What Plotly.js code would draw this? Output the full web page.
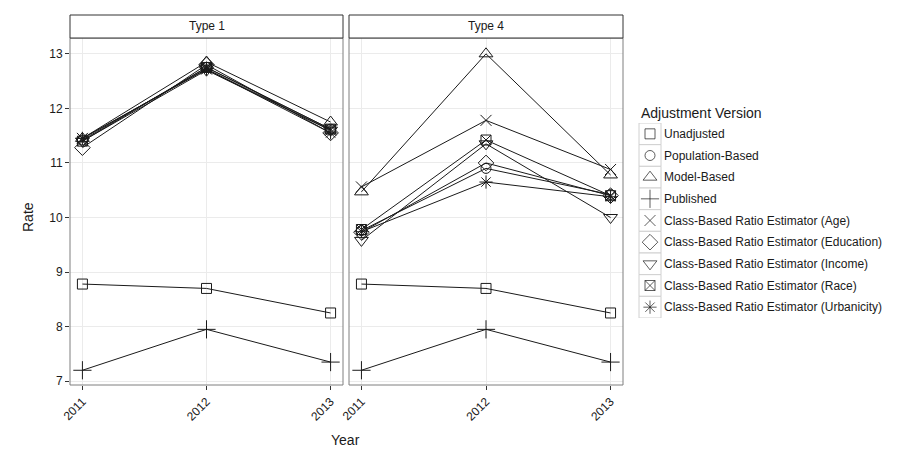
<!DOCTYPE html>
<html>
<head>
<meta charset="utf-8">
<script src="https://cdn.plot.ly/plotly-3.0.1.min.js"></script>
<style>html,body{margin:0;padding:0;background:#fff;}#chart{width:900px;height:459px;}</style>
</head>
<body>
<div id="chart"></div>
<script>
const years = [2011, 2012, 2013];
const panels = ["Type 1", "Type 4"];
const legendTitle = "Adjustment Version";
const versions = [
  "Unadjusted",
  "Population-Based",
  "Model-Based",
  "Published",
  "Class-Based Ratio Estimator (Age)",
  "Class-Based Ratio Estimator (Education)",
  "Class-Based Ratio Estimator (Income)",
  "Class-Based Ratio Estimator (Race)",
  "Class-Based Ratio Estimator (Urbanicity)"
];
const symbols = ["square-open", "circle-open", "triangle-up-open", "cross-thin-open", "x-thin-open", "diamond-open", "triangle-down-open", "square-x-open", "asterisk-open"];

// Type 1 values, one array per version (2011, 2012, 2013)
const t1Unadjusted = [8.78, 8.70, 8.25];
const t1Population = [11.42, 12.75, 11.62];
const t1Model      = [11.45, 12.85, 11.75];
const t1Published  = [7.20, 7.95, 7.35];
const t1Age        = [11.45, 12.72, 11.60];
const t1Education  = [11.28, 12.80, 11.55];
const t1Income     = [11.40, 12.70, 11.60];
const t1Race       = [11.40, 12.75, 11.62];
const t1Urbanicity = [11.45, 12.72, 11.55];

// Type 4 values
const t4Unadjusted = [8.78, 8.70, 8.25];
const t4Population = [9.76, 10.90, 10.42];
const t4Model      = [10.47, 13.00, 10.78];
const t4Published  = [7.20, 7.95, 7.35];
const t4Age        = [10.56, 11.78, 10.88];
const t4Education  = [9.73, 11.00, 10.40];
const t4Income     = [9.58, 11.35, 10.00];
const t4Race       = [9.78, 11.42, 10.40];
const t4Urbanicity = [9.74, 10.65, 10.38];

const type1 = [t1Unadjusted, t1Population, t1Model, t1Published, t1Age, t1Education, t1Income, t1Race, t1Urbanicity];
const type4 = [t4Unadjusted, t4Population, t4Model, t4Published, t4Age, t4Education, t4Income, t4Race, t4Urbanicity];
const yTicks = [7, 8, 9, 10, 11, 12, 13];

const FONT = "Liberation Sans, Arial, sans-serif";
const INK = "#1a1a1a";
const markerSize = {"triangle-up-open": 12, "triangle-down-open": 12, "cross-thin-open": 13, "x-thin-open": 11, "asterisk-open": 11, "diamond-open": 12, "circle-open": 10, "square-open": 10, "square-x-open": 10};

const traces = [];
[type1, type4].forEach((data, p) => {
  const xa = p === 0 ? "x" : "x2";
  data.forEach((vals) => {
    traces.push({
      x: years, y: vals, xaxis: xa, yaxis: "y", type: "scatter", mode: "lines",
      line: {color: INK, width: 1}, showlegend: false, hoverinfo: "skip"
    });
  });
});
[type1, type4].forEach((data, p) => {
  const xa = p === 0 ? "x" : "x2";
  data.forEach((vals, i) => {
    traces.push({
      x: years, y: vals, xaxis: xa, yaxis: "y", type: "scatter", mode: "markers",
      name: versions[i], showlegend: false,
      marker: {symbol: symbols[i], size: markerSize[symbols[i]], color: INK, line: {color: INK, width: 1}}
    });
  });
});
// legend keys: one marker per version on a small categorical axis
traces.push({
  x: versions.map(() => 0), y: versions, xaxis: "x3", yaxis: "y3", type: "scatter", mode: "markers",
  showlegend: false, hoverinfo: "skip",
  marker: {symbol: symbols, size: symbols.map(s => markerSize[s]), color: INK, line: {color: INK, width: 1}}
});

const yr = [6.93, 13.29];
const xr = [2010.9, 2013.1];
const d1 = [70/900, 343/900], d2 = [349/900, 623/900];
const yd = [1 - 385/459, 1 - 38/459];
const stripTop = 1 - 15/459;
const keyTop = 123, keyBottom = 318;

const xaxisBase = {
  range: xr, tickvals: years, ticktext: years.map(String), tickangle: -45,
  showgrid: true, gridcolor: "#ebebeb", gridwidth: 1, zeroline: false,
  ticks: "outside", ticklen: 4, tickcolor: "#333", tickwidth: 1,
  tickfont: {family: FONT, size: 12, color: INK},
  showline: false, anchor: "y", fixedrange: true
};

const shapes = [];
const annotations = [];
[d1, d2].forEach((d, p) => {
  const ax = p === 0 ? "x" : "x2";
  shapes.push({type: "rect", xref: ax + " domain", yref: "y domain", x0: 0, x1: 1, y0: 0, y1: 1,
    line: {color: "#7f7f7f", width: 1}, fillcolor: "rgba(0,0,0,0)", layer: "above"});
  shapes.push({type: "rect", xref: ax + " domain", yref: "paper", x0: 0, x1: 1, y0: yd[1], y1: stripTop,
    line: {color: "#333", width: 1}, fillcolor: "#ffffff", layer: "above"});
  annotations.push({text: panels[p], xref: ax + " domain", yref: "paper", x: 0.5, y: (yd[1] + stripTop) / 2,
    showarrow: false, xanchor: "center", yanchor: "middle",
    font: {family: FONT, size: 12, color: INK}});
});
// legend key boxes (ggplot-style), one per category
versions.forEach((v, i) => {
  shapes.push({type: "rect", xref: "x3 domain", yref: "y3", x0: 0, x1: 1, y0: i - 0.5, y1: i + 0.5,
    line: {color: "#d0d0d0", width: 1}, fillcolor: "#ffffff", layer: "below"});
});
annotations.push({text: legendTitle, xref: "paper", yref: "paper", x: 639/900, y: 1 - 113/459, showarrow: false,
  xanchor: "left", yanchor: "middle", font: {family: FONT, size: 14, color: INK}});
annotations.push({text: "Year", xref: "paper", yref: "paper", x: 345/900, y: 1 - 440/459, showarrow: false,
  xanchor: "center", yanchor: "middle", font: {family: FONT, size: 14, color: INK}});
annotations.push({text: "Rate", xref: "paper", yref: "paper", x: 28/900, y: 1 - 217/459, showarrow: false, textangle: -90,
  xanchor: "center", yanchor: "middle", font: {family: FONT, size: 14, color: INK}});

const layout = {
  width: 900, height: 459,
  margin: {l: 0, r: 0, t: 0, b: 0},
  paper_bgcolor: "#ffffff", plot_bgcolor: "#ffffff",
  showlegend: false,
  xaxis: Object.assign({}, xaxisBase, {domain: d1}),
  xaxis2: Object.assign({}, xaxisBase, {domain: d2}),
  yaxis: {
    range: yr, domain: yd, tickvals: yTicks, ticktext: yTicks.map(String),
    showgrid: true, gridcolor: "#ebebeb", zeroline: false,
    ticks: "outside", ticklen: 4, tickcolor: "#333", tickwidth: 1,
    tickfont: {family: FONT, size: 12, color: INK},
    showline: false, anchor: "x", fixedrange: true
  },
  xaxis3: {domain: [639/900, 661/900], range: [-1, 1], visible: false, anchor: "y3", fixedrange: true},
  yaxis3: {
    domain: [1 - keyBottom/459, 1 - keyTop/459], type: "category", categoryorder: "array", categoryarray: versions,
    range: [versions.length - 0.5, -0.5], side: "right", anchor: "x3",
    showgrid: false, zeroline: false, showline: false, ticks: "", ticklabelstandoff: 2,
    tickfont: {family: FONT, size: 12, color: INK}, fixedrange: true
  },
  shapes: shapes,
  annotations: annotations
};

Plotly.newPlot("chart", traces, layout, {displayModeBar: false, staticPlot: true});
</script>
</body>
</html>
